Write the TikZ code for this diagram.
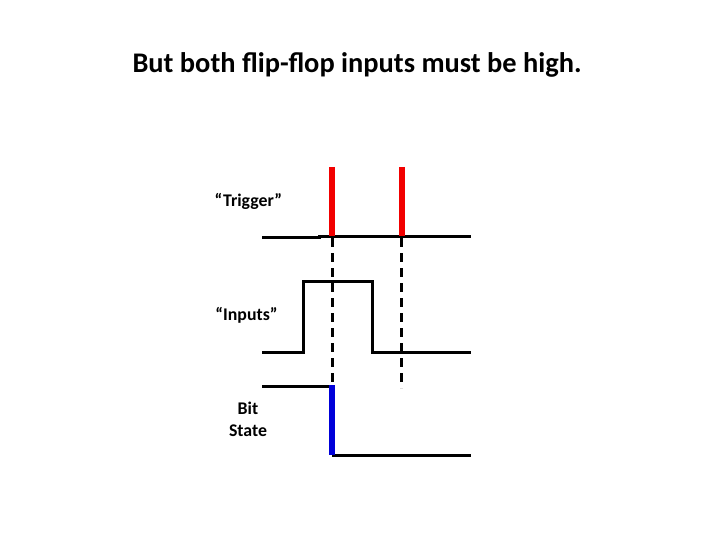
\documentclass[tikz,border=0pt]{standalone}
\usepackage{fontspec}
\setmainfont{Carlito}
\begin{document}
\begin{tikzpicture}[x=1pt,y=-1pt,
  wave/.style={line width=3pt,black},
  redpulse/.style={line width=6pt,red!95!black},
  bluepulse/.style={line width=6pt,blue!85!black},
  guide/.style={line width=3pt,black,dash pattern=on 9pt off 6pt},
  lbl/.style={font=\fontsize{17.8}{21}\selectfont\bfseries,align=center,inner sep=0pt}]
\useasboundingbox (0,0) rectangle (720,540);
\node[font=\fontsize{28.4}{32}\selectfont\bfseries] (title) at (357,65) {But both flip-flop inputs must be high.};
\node[lbl] (ltrig) at (248.5,201) {“Trigger”};
\node[lbl] (linp) at (246.5,315) {“Inputs”};
\node[lbl] (lbit) at (248,419) {Bit\\[1pt]State};
% trigger line
\coordinate (t0) at (262,237);
\coordinate (t1) at (319,237);
\coordinate (t2) at (471,236);
\draw[wave] (t0) -- (t1) |- (t2);
% red pulses
\coordinate (r1a) at (331.5,167); \coordinate (r1b) at (331.5,236);
\coordinate (r2a) at (401.5,167); \coordinate (r2b) at (401.5,236);
\draw[redpulse] (r1a) -- (r1b);
\draw[redpulse] (r2a) -- (r2b);
% dashed guides
\coordinate (d1a) at (332,238); \coordinate (d1b) at (332,386);
\coordinate (d2a) at (401.5,238); \coordinate (d2b) at (401.5,388);
\draw[guide] (d1a) -- (d1b);
\draw[guide] (d2a) -- (d2b);
% inputs
\coordinate (i0) at (262,352);
\coordinate (i1) at (303,352);
\coordinate (i2) at (303,281);
\coordinate (i3) at (372,281);
\coordinate (i4) at (372,352);
\coordinate (i5) at (471,352);
\draw[wave,line join=miter] (i0) -- (i1) -- (i2) -- (i3) -- (i4) -- (i5);
% bit state
\coordinate (b0) at (262,386.5);
\coordinate (b1) at (331.5,386.5);
\coordinate (b2) at (331.5,455);
\coordinate (b3) at (471,455);
\draw[wave] (b0) -- (b1);
\draw[wave] (b2) -- (b3);
\draw[bluepulse] (331.5,385) -- (b2);
\end{tikzpicture}
\end{document}
